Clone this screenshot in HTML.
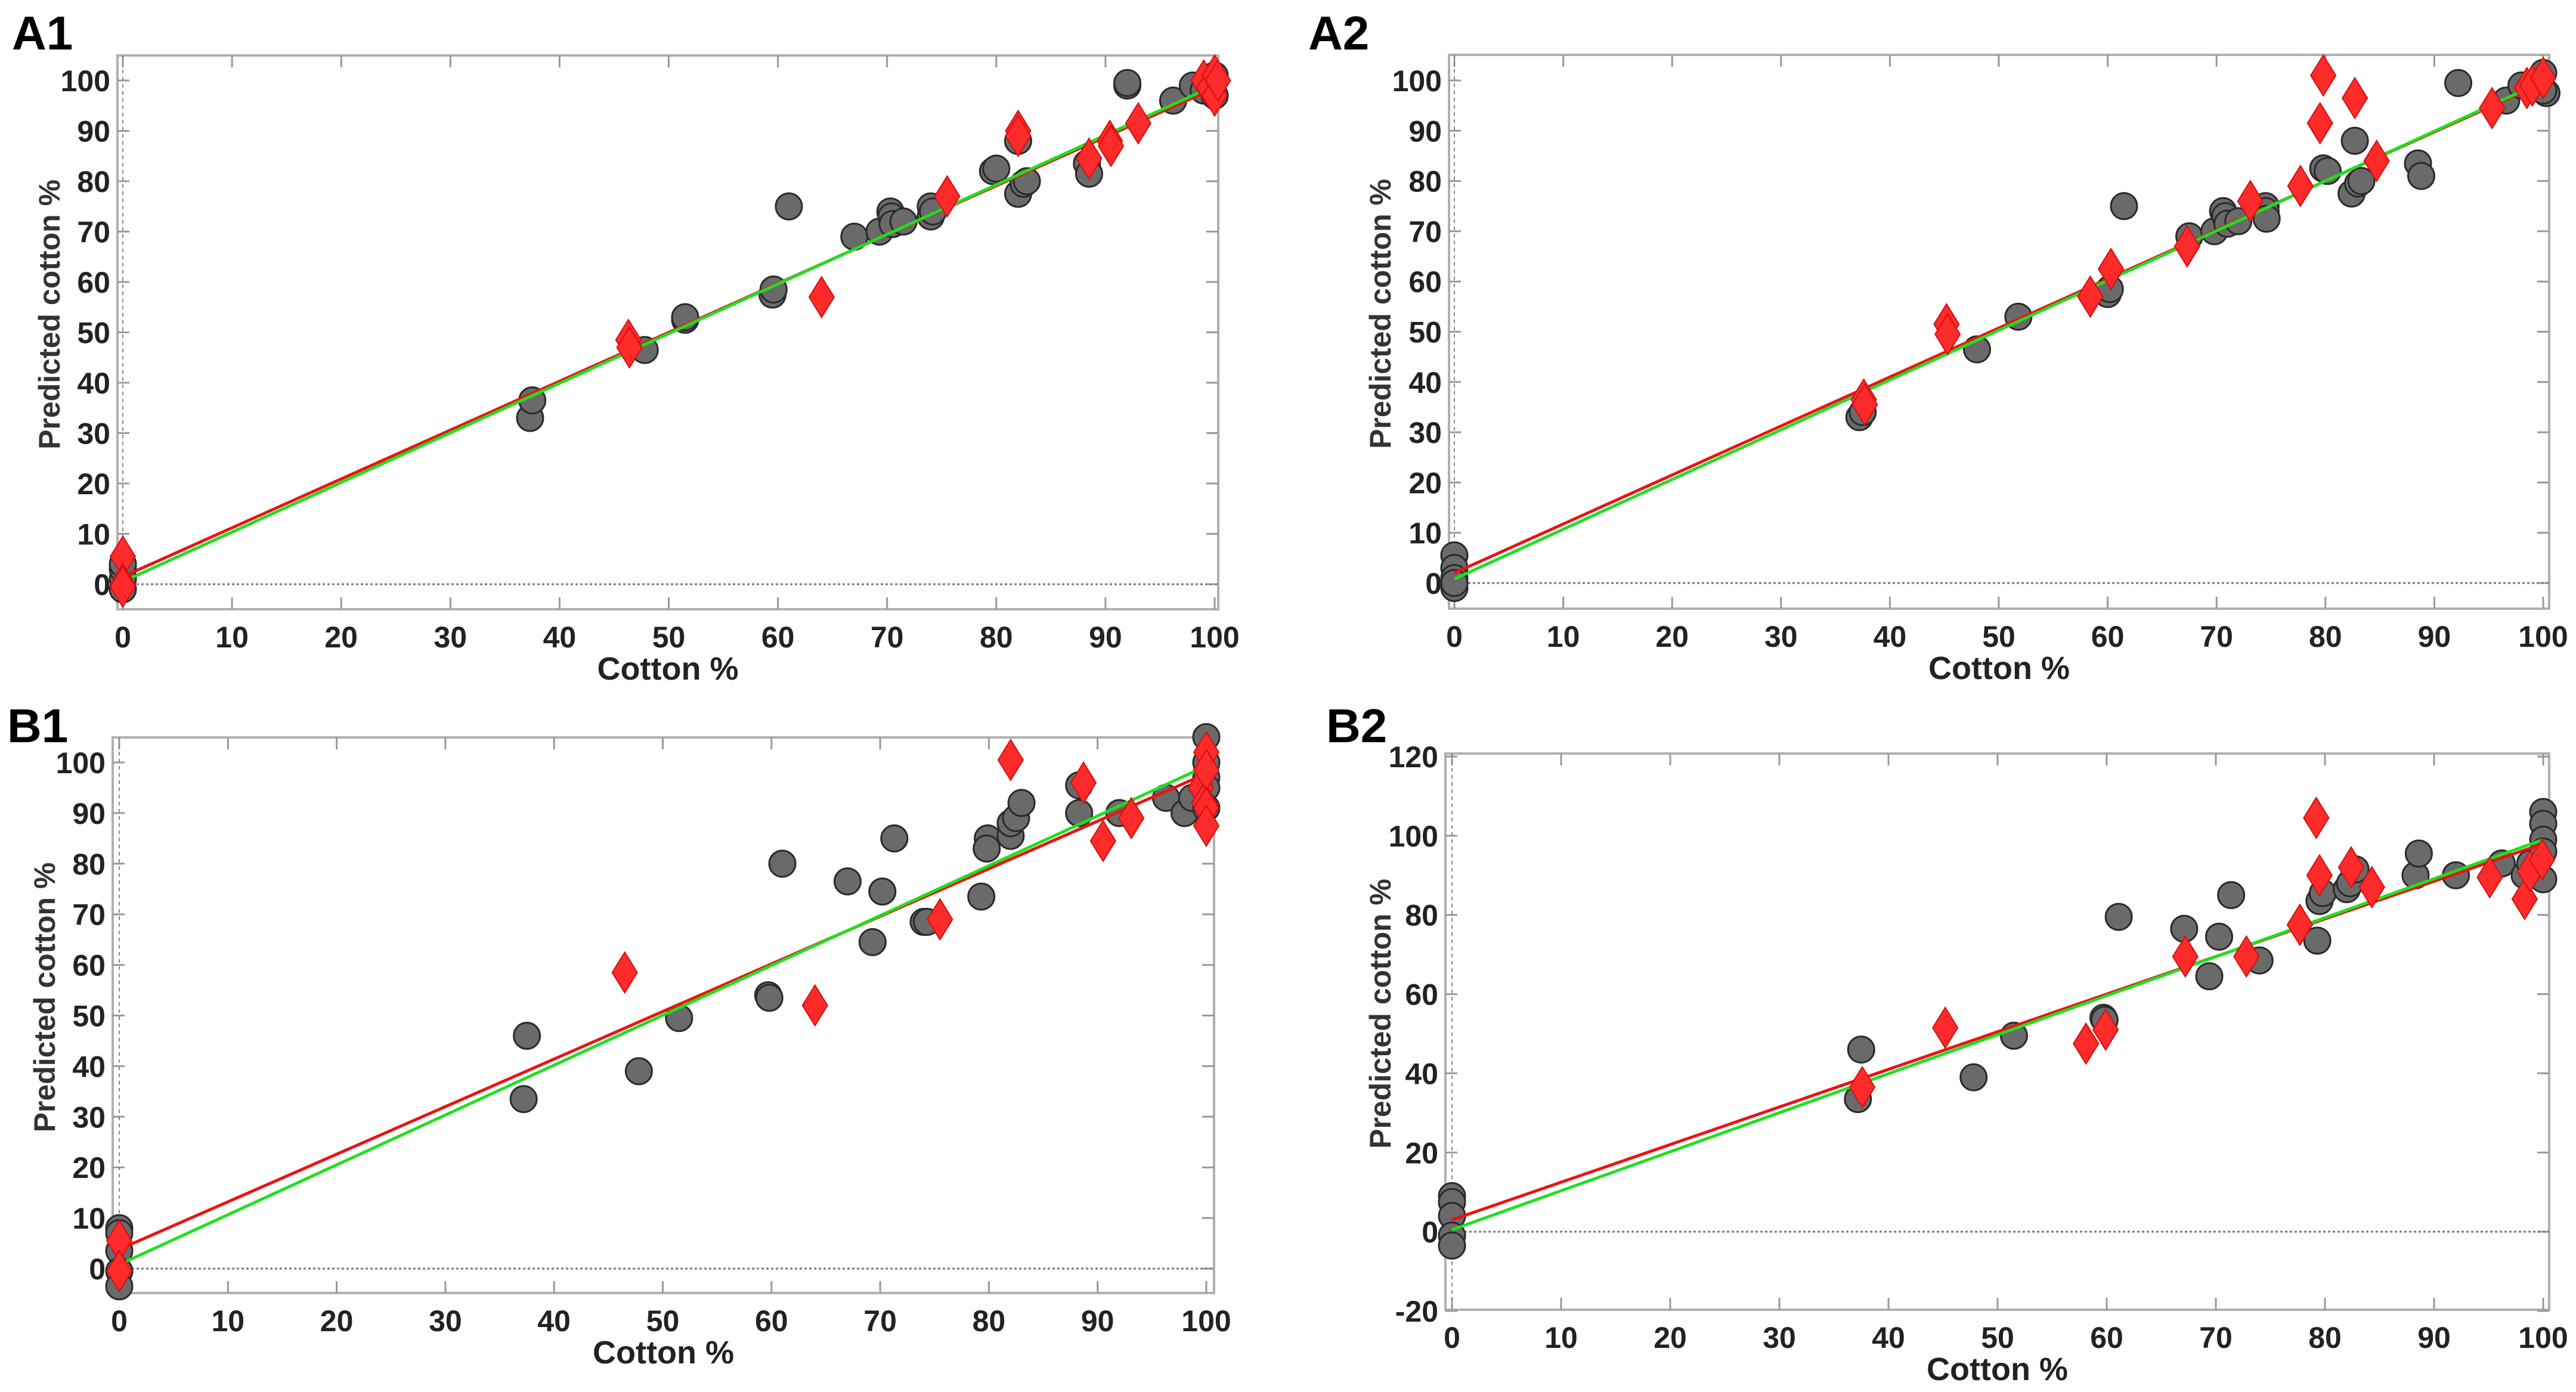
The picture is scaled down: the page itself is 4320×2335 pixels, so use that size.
<!DOCTYPE html>
<html><head><meta charset="utf-8">
<style>
html,body{margin:0;padding:0;background:#fff;}
svg{display:block;}
.tick{font-family:"Liberation Sans Narrow","Liberation Sans",sans-serif;font-weight:bold;font-size:50px;fill:#222;}
.xt{font-family:"Liberation Sans Narrow","Liberation Sans",sans-serif;font-weight:bold;font-size:54px;fill:#222;}
.yt{font-family:"Liberation Sans",sans-serif;font-weight:bold;font-size:50px;fill:#333;}
.pl{font-family:"Liberation Sans",sans-serif;font-weight:bold;font-size:80px;fill:#000;}
</style></head>
<body>
<svg id="fig" width="4320" height="2335" viewBox="0 0 4320 2335" xmlns="http://www.w3.org/2000/svg"></svg>
<script>
// ---- data ----
const a1Circles = [[0,-1],[0,1],[0,3],[0,4],[37.3,33],[37.5,36.5],[47.8,46.5],[51.5,52.5],[51.5,53],[59.5,57.5],[59.6,58.5],[61,75],[67,69],[69.3,70],[70.3,74],[70.4,73],[70.5,71.5],[71.5,72],[74,75],[74,73],[74.2,74],[79.7,82],[80,82.5],[82,77.5],[82.5,79.5],[82.8,80],[82,88],[88.3,83.5],[88.5,81.5],[92,99],[92,99.5],[96.2,96],[98,99],[99,98],[99.5,100],[100,101],[100,97]];
const a1Diamonds = [[0,5.5],[0,0],[0,-0.5],[46.3,48.5],[46.4,47],[64,57],[75.5,77],[82,90],[82,89],[88.5,84.5],[90.4,88],[90.5,87],[93,91.5],[99,100],[99.5,98.5],[100,101],[100,97],[100.3,100]];
const a1Red = [1.5,0.97];
const a1Green = [0.5,0.985];

const a2Circles = [[0,5.5],[0,3],[0,1],[0,-1],[0,0],[37.2,33],[37.5,34],[48,46.5],[51.8,53],[60,57.5],[60.2,58.5],[61.5,75],[67.5,69],[69.8,70],[70.6,74],[70.8,73],[71,71.5],[72,72],[74.5,75],[74.5,74],[74.6,72.5],[79.8,82.5],[80.2,82],[82.4,77.5],[82.7,88],[83,79.5],[83.3,80],[88.5,83.5],[88.8,81],[92.2,99.5],[96.6,96],[98,99],[99,98.5],[100,101.5],[100.3,97.5],[100,98]];
const a2Diamonds = [[37.6,36.5],[37.7,35.5],[45.2,51.5],[45.3,49.5],[58.4,57],[60.3,62.5],[67.3,67],[73.1,76],[77.7,79],[79.8,101],[79.5,91.5],[82.7,96.5],[84.7,84],[95.3,94.5],[98.5,98.5],[99,99],[100,100.5]];
const a2Red = [2,0.975];
const a2Green = [0.8,0.99];

const b1Circles = [[0,8],[0,7],[0,3.5],[0,-0.5],[0,-3.5],[37.2,33.5],[37.5,46],[47.8,39],[51.5,49.5],[59.7,54],[59.8,53.5],[61,80],[67,76.5],[69.3,64.5],[70.2,74.5],[71.3,85],[74,68.5],[74.3,68.5],[79.3,73.5],[79.9,85],[79.8,83],[82,85.5],[82,88],[82.5,89],[83,92],[88.3,95.5],[88.3,90],[92,90],[96.3,93],[98,90],[98.7,93],[100,105],[100,100],[100,97],[100,95],[100,91]];
const b1Diamonds = [[0,5.5],[0,-0.5],[46.5,58.5],[64,52],[75.5,69],[82,100.5],[88.7,96],[90.5,84.5],[93.1,89],[99.5,95],[99.8,92],[100,102],[100,98.5],[100,91],[100,87.5]];
const b1Red = [3.8,0.94];
const b1Green = [0.8,0.985];

const b2Circles = [[0,9],[0,7.5],[0,4],[0,-1],[0,-3.5],[37.2,33.5],[37.5,46],[47.8,39],[51.5,49.5],[59.7,54],[59.8,53.5],[61.1,79.5],[67.1,76.5],[69.4,64.5],[70.3,74.5],[71.4,85],[74,68.5],[79.3,73.5],[79.5,83.5],[79.8,85.5],[82,86.5],[82.3,88],[82.8,91.5],[88.3,90],[88.6,95.5],[92,90],[96.2,93],[98.3,90],[98.8,93],[100,106],[100,103],[100,99],[100,96],[100,89]];
const b2Diamonds = [[37.6,36.5],[45.2,51.5],[58.1,47.5],[59.9,51],[67.2,69.5],[72.8,69.5],[77.7,77.5],[79.2,104.5],[79.5,90],[82.4,92],[84.3,87],[95.1,89.5],[98.3,84],[98.8,91],[99.9,94]];
const b2Red = [3,0.95];
const b2Green = [0.5,0.985];

const xTicks = [0,10,20,30,40,50,60,70,80,90,100];
const yTicksA = [0,10,20,30,40,50,60,70,80,90,100];
const yTicksB2 = [-20,0,20,40,60,80,100,120];

const NS = "http://www.w3.org/2000/svg";
const svg = document.getElementById('fig');
function mk(tag, attrs, parent){
  const e = document.createElementNS(NS, tag);
  for (const k in attrs) e.setAttribute(k, attrs[k]);
  (parent||svg).appendChild(e);
  return e;
}

function panel(cfg){
  const g = mk('g', {});
  
  
  const sx = v => cfg.x0 + (v - 0) * (cfg.x100 - cfg.x0) / 100;
  const sy = v => cfg.ya + (v - cfg.yva) * (cfg.yb - cfg.ya) / (cfg.yvb - cfg.yva);
  const B = cfg.box;
  const box = mk('rect', {x:B[0], y:B[1], width:B[2]-B[0], height:B[3]-B[1], fill:'#fff', stroke:'#b0b0b0', 'stroke-width':4}, g);
  
  
  xTicks.forEach(t => {
    const X = sx(t);
    mk('line', {x1:X, x2:X, y1:B[1], y2:B[1]+20, stroke:'#999', 'stroke-width':3}, g);
    mk('line', {x1:X, x2:X, y1:B[3], y2:B[3]-20, stroke:'#999', 'stroke-width':3}, g);
    const tx = mk('text', {x:X, y:B[3]+64, 'text-anchor':'middle', class:'tick'}, g);
    tx.textContent = t;
    
    
  });
  cfg.yTicks.forEach(t => {
    const Y = sy(t);
    mk('line', {x1:B[0], x2:B[0]+20, y1:Y, y2:Y, stroke:'#999', 'stroke-width':3}, g);
    mk('line', {x1:B[2], x2:B[2]-20, y1:Y, y2:Y, stroke:'#999', 'stroke-width':3}, g);
    const tx = mk('text', {x:B[0]-12, y:Y+18, 'text-anchor':'end', class:'tick'}, g);
    tx.textContent = t;
    
    
  });
  mk('line', {x1:B[0], x2:B[2], y1:sy(0), y2:sy(0), stroke:'#777', 'stroke-width':3, 'stroke-dasharray':'4 4'}, g);
  mk('line', {x1:sx(0), x2:sx(0), y1:B[1], y2:B[3], stroke:'#888', 'stroke-width':2, 'stroke-dasharray':'6 6'}, g);
  cfg.circles.forEach(p => {
    const c = mk('circle', {cx:sx(p[0]), cy:sy(p[1]), r:22, fill:'#6a6a6a', stroke:'#2a2a2a', 'stroke-width':3}, g);
    
    
  });
  const lr = mk('line', {x1:sx(0), y1:sy(cfg.red[0]), x2:sx(100), y2:sy(cfg.red[0]+100*cfg.red[1]), stroke:'#ee1111', 'stroke-width':5}, g);
  
  
  const lg = mk('line', {x1:sx(0), y1:sy(cfg.green[0]), x2:sx(100), y2:sy(cfg.green[0]+100*cfg.green[1]), stroke:'#1ee01e', 'stroke-width':5}, g);
  
  
  cfg.diamonds.forEach(p => {
    const X = sx(p[0]), Y = sy(p[1]);
    const d = mk('polygon', {points:`${X},${Y-34} ${X+21},${Y} ${X},${Y+34} ${X-21},${Y}`, fill:'#ff2a2a', stroke:'#d01010', 'stroke-width':2}, g);
    
    
  });
  const xt = mk('text', {x:(B[0]+B[2])/2, y:B[3]+118, 'text-anchor':'middle', class:'xt'}, g);
  xt.textContent = 'Cotton %';
  
  
  const cy = (B[1]+B[3])/2 - 30;
  const yt = mk('text', {x:cfg.ytx, y:cy, 'text-anchor':'middle', class:'yt', transform:`rotate(-90 ${cfg.ytx} ${cy})`}, g);
  yt.textContent = 'Predicted cotton %';
  
  
  const pl = mk('text', {x:cfg.lab[0], y:cfg.lab[1], class:'pl'}, g);
  pl.textContent = cfg.id.toUpperCase();
  
  
}

panel({id:'a1', box:[197,93,2043,1022], x0:206, x100:2037, ya:980, yva:0, yb:135, yvb:100, yTicks:yTicksA, circles:a1Circles, diamonds:a1Diamonds, red:a1Red, green:a1Green, ytx:100, lab:[20,83]});
panel({id:'a2', box:[2430,92,4275,1021], x0:2439, x100:4265, ya:978, yva:0, yb:135, yvb:100, yTicks:yTicksA, circles:a2Circles, diamonds:a2Diamonds, red:a2Red, green:a2Green, ytx:2332, lab:[2194,83]});
panel({id:'b1', box:[189,1237,2036,2169], x0:200, x100:2023, ya:2128, yva:0, yb:1279, yvb:100, yTicks:yTicksA, circles:b1Circles, diamonds:b1Diamonds, red:b1Red, green:b1Green, ytx:92, lab:[12,1245]});
panel({id:'b2', box:[2424,1264,4275,2197], x0:2435, x100:4265, ya:2199, yva:-20, yb:1269, yvb:120, yTicks:yTicksB2, circles:b2Circles, diamonds:b2Diamonds, red:b2Red, green:b2Green, ytx:2332, lab:[2224,1245]});
</script>
</body></html>
